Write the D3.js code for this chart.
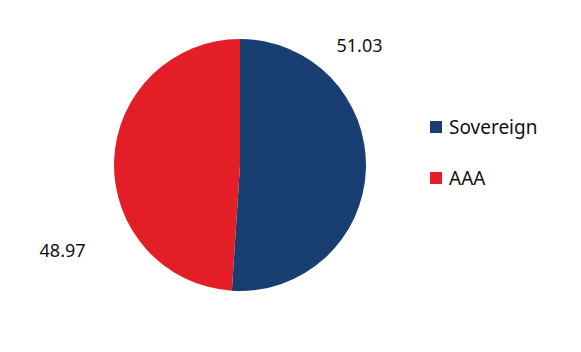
<!DOCTYPE html>
<html>
<head>
<meta charset="utf-8">
<script src="https://cdn.jsdelivr.net/npm/d3@7"></script>
<style>
  body { margin: 0; background: #fff; }
  svg text { font-family: 'Noto Sans', sans-serif; fill: #111; }
</style>
</head>
<body>
<svg id="chart" width="581" height="352"></svg>
<script>
const categories = ["Sovereign", "AAA"];
const values = [51.03, 48.97];
const colors = ["#193e72", "#e31e26"];

const svg = d3.select("#chart");
const cx = 240, cy = 165, radius = 126;

const pie = d3.pie().sort(null).value((d) => d);
const arcs = pie(values);
const arc = d3.arc().innerRadius(0).outerRadius(radius);

const g = svg.append("g").attr("transform", `translate(${cx},${cy})`);

g.selectAll("path")
    .data(arcs)
    .join("path")
    .attr("d", arc)
    .attr("fill", (d, i) => colors[i]);

// value labels placed outside the pie
const labelPos = [
    { angle: Math.PI / 4, r: 169 },
    { angle: -Math.PI * 0.643, r: 197 },
];
g.selectAll(".val")
    .data(arcs)
    .join("text")
    .attr("class", "val")
    .attr("x", (d, i) => Math.sin(labelPos[i].angle) * labelPos[i].r)
    .attr("y", (d, i) => -Math.cos(labelPos[i].angle) * labelPos[i].r)
    .attr("dy", "0.35em")
    .attr("text-anchor", "middle")
    .style("font-size", "18px")
    .text((d) => d.data.toFixed(2));

// legend
const legend = svg.append("g").attr("transform", "translate(430,121)");
const item = legend.selectAll("g")
    .data(categories)
    .join("g")
    .attr("transform", (d, i) => `translate(0,${i * 51})`);
item.append("rect")
    .attr("width", 12).attr("height", 12)
    .attr("fill", (d, i) => colors[i]);
item.append("text")
    .attr("x", 19).attr("y", 6)
    .attr("dy", "0.35em")
    .style("font-size", "19px")
    .text((d) => d);
</script>
</body>
</html>
